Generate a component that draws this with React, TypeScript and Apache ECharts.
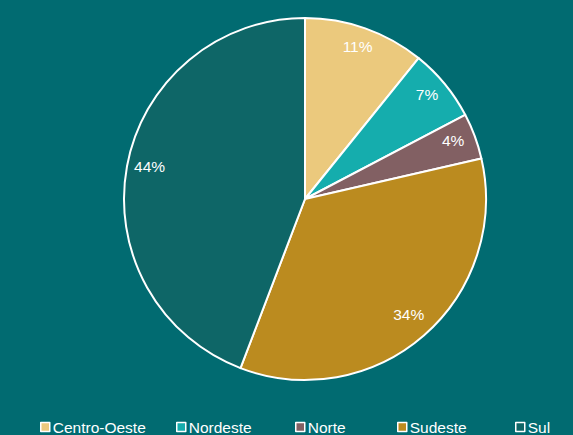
import React, { useEffect, useRef } from "react";
import * as echarts from "echarts";

const categories = ["Centro-Oeste", "Nordeste", "Norte", "Sudeste", "Sul"];
const values = [10.8, 6.5, 4.1, 34.4, 44.2];
const colors = ["#EBC97D", "#15ADAD", "#826063", "#BB8B1F", "#0E6667"];
const legendLeft = [40, 176, 295, 397, 515];

export default function App() {
  const ref = useRef<HTMLDivElement>(null);
  useEffect(() => {
    const chart = echarts.init(ref.current!, undefined, { renderer: "svg" });
    const data = categories.map((name, i) => ({
      name,
      value: values[i],
      itemStyle: { color: colors[i] },
    }));
    chart.setOption({
      animation: false,
      backgroundColor: "#016B71",
      legend: categories.map((name, i) => ({
        data: [name],
        left: legendLeft[i],
        top: 419,
        itemWidth: 9,
        itemHeight: 9,
        itemGap: 0,
        icon: "rect",
        itemStyle: { borderColor: "#ffffff", borderWidth: 1.5 },
        textStyle: { color: "#ffffff", fontSize: 15.5, fontFamily: "Liberation Sans, Arial, sans-serif", padding: [0, 0, 0, -2] },
        padding: 0,
        selectedMode: false,
      })),
      series: [
        {
          type: "pie",
          center: [305, 199],
          radius: [0, 181],
          startAngle: 90,
          clockwise: true,
          data,
          label: { show: false },
          labelLine: { show: false },
          itemStyle: { borderColor: "#ffffff", borderWidth: 2 },
          emphasis: { disabled: true },
        },
        {
          type: "pie",
          center: [305, 195],
          radius: [128, 182],
          startAngle: 90,
          clockwise: true,
          silent: true,
          legendHoverLink: false,
          data: categories.map((name, i) => ({
            name: name + " ",
            value: values[i],
            itemStyle: { color: "transparent" },
          })),
          label: {
            show: true,
            position: "inside",
            color: "#ffffff",
            fontSize: 15.5,
            fontFamily: "Liberation Sans, Arial, sans-serif",
            formatter: (p: any) => Math.round(p.value) + "%",
          },
          labelLine: { show: false },
          emphasis: { disabled: true },
        },
      ],
    });
    return () => chart.dispose();
  }, []);
  return (
    <div
      ref={ref}
      style={{ position: "fixed", left: 0, top: 0, width: 573, height: 435 }}
    />
  );
}
